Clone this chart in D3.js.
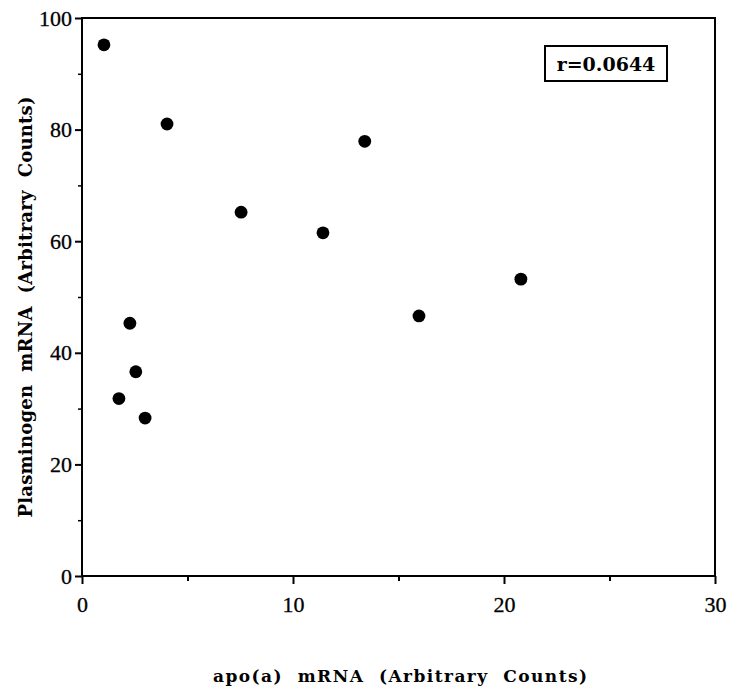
<!DOCTYPE html>
<html>
<head>
<meta charset="utf-8">
<script src="https://cdn.jsdelivr.net/npm/d3@7"></script>
<style>
  body { margin: 0; background: #fff; }
  svg text { fill: #000; }
  .tick text { font-family: "Liberation Serif", "Times New Roman", serif; }
  .title { font-family: "DejaVu Serif", serif; font-weight: bold; }
</style>
</head>
<body>
<div id="chart"></div>
<script>
// values
var apoA = [1.04, 4.03, 13.4, 7.54, 11.42, 20.8, 15.97, 2.27, 2.55, 1.75, 2.99];
var plasminogen = [95.2, 81.0, 77.9, 65.2, 61.5, 53.2, 46.6, 45.3, 36.6, 31.8, 28.3];
var xTicks = [0, 10, 20, 30];
var xMinorTicks = [5, 15, 25];
var yTicks = [0, 20, 40, 60, 80, 100];
var yMinorTicks = [10, 30, 50, 70, 90];
var rLabel = "r=0.0644";
var xTitle = "apo(a)  mRNA  (Arbitrary  Counts)";
var yTitle = "Plasminogen  mRNA  (Arbitrary  Counts)";

var W = 729, H = 688;
var margin = { top: 18, right: 14, bottom: 112, left: 82 };
var width = W - margin.left - margin.right;
var height = H - margin.top - margin.bottom;

var svg = d3.select("#chart").append("svg")
  .attr("width", W).attr("height", H);
var g = svg.append("g").attr("transform", "translate(" + margin.left + "," + margin.top + ")");

var x = d3.scaleLinear().domain([0, 30]).range([0, width]);
var y = d3.scaleLinear().domain([0, 100]).range([height, 0]);

// frame
g.append("rect").attr("width", width).attr("height", height)
  .attr("fill", "none").attr("stroke", "#000").attr("stroke-width", 2);

// x axis
var xAxis = d3.axisBottom(x).tickValues(xTicks).tickSize(8).tickPadding(12).tickFormat(d3.format("d"));
var gx = g.append("g").attr("transform", "translate(0," + height + ")").call(xAxis);
gx.select(".domain").remove();
gx.selectAll(".tick line").attr("stroke-width", 2);
gx.selectAll("text").attr("font-size", 22).attr("stroke", "#000").attr("stroke-width", 0.3);
g.append("g").attr("transform", "translate(0," + height + ")")
  .call(d3.axisBottom(x).tickValues(xMinorTicks).tickSize(5).tickFormat(""))
  .call(function(s) { s.select(".domain").remove(); s.selectAll("line").attr("stroke-width", 2); });

// y axis
var yAxis = d3.axisLeft(y).tickValues(yTicks).tickSize(7).tickPadding(3).tickFormat(d3.format("d"));
var gy = g.append("g").call(yAxis);
gy.select(".domain").remove();
gy.selectAll(".tick line").attr("stroke-width", 2);
gy.selectAll("text").attr("font-size", 22).attr("stroke", "#000").attr("stroke-width", 0.3);
g.append("g")
  .call(d3.axisLeft(y).tickValues(yMinorTicks).tickSize(4).tickFormat(""))
  .call(function(s) { s.select(".domain").remove(); s.selectAll("line").attr("stroke-width", 1.5); });

// points
g.selectAll("circle.pt").data(apoA).enter().append("circle")
  .attr("class", "pt")
  .attr("cx", function(d) { return x(d); })
  .attr("cy", function(d, i) { return y(plasminogen[i]); })
  .attr("r", 6.4)
  .attr("fill", "#000");

// r label box
var box = svg.append("g").attr("transform", "translate(545,46)");
box.append("rect").attr("width", 122).attr("height", 35)
  .attr("fill", "#fff").attr("stroke", "#000").attr("stroke-width", 2);
box.append("text").attr("class", "title").attr("x", 61).attr("y", 25).attr("text-anchor", "middle")
  .attr("font-size", 19).text(rLabel);

// titles
svg.append("text").attr("class", "title").attr("x", 400).attr("y", 682)
  .attr("text-anchor", "middle").attr("font-size", 17)
  .attr("textLength", 374).attr("lengthAdjust", "spacing")
  .attr("xml:space", "preserve").text(xTitle);
svg.append("text").attr("class", "title").attr("transform", "translate(32,307) rotate(-90)")
  .attr("text-anchor", "middle").attr("font-size", 18)
  .attr("textLength", 421).attr("lengthAdjust", "spacing")
  .attr("xml:space", "preserve").text(yTitle);
</script>
</body>
</html>
